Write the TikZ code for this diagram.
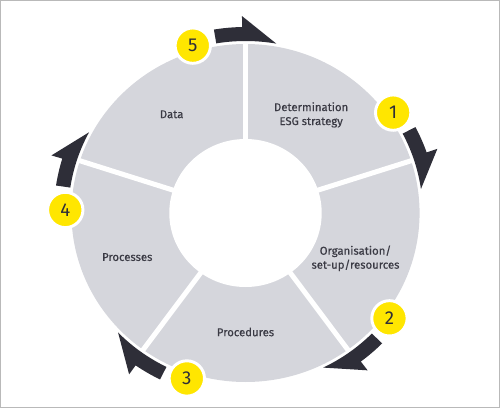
\documentclass[tikz,border=0pt]{standalone}
\usepackage{fontspec}
\setmainfont{Fira Sans}
\newfontfamily\labelfont[FakeBold=0.4]{Fira Sans}

\definecolor{ringgray}{HTML}{D5D6DC}
\definecolor{arrowdark}{HTML}{2E2E38}
\definecolor{badgeyellow}{HTML}{FFE600}
\definecolor{labeltext}{HTML}{3A3A44}

\tikzset{
	sector label/.style={text=labeltext, font=\labelfont\fontsize{8.5}{10.5}\selectfont, align=center},
	badge/.style={circle, fill=badgeyellow, draw=white, line width=2.2pt, minimum size=26.5pt, inner sep=0pt, text=arrowdark, font=\fontsize{14}{14}\selectfont},
	separator/.style={white, line width=3.75pt}
}

\begin{document}
\begin{tikzpicture}[x=0.75pt,y=0.75pt]
	
	\useasboundingbox (0,0) rectangle (500,408);
	
	% Draw frame
	\draw[gray!55, line width=0.75pt] (0.5,0.5) rectangle (499.5,407.5);
	
	\begin{scope}[shift={(245.5,195)}, xscale=1.03]
	
	% Draw ring
	\fill[ringgray] (0,0) circle[radius=169];
	\fill[white] (0,0) circle[radius=74];
	
	% Draw separators
	\draw[separator] (90:70) -- (90:172);
	\draw[separator] (18:70) -- (18:172);
	\draw[separator] (-54:70) -- (-54:172);
	\draw[separator] (-126:70) -- (-126:172);
	\draw[separator] (162:70) -- (162:172);
	
	% Draw arrows
	\fill[arrowdark] (27.5:172) arc[start angle=27.5, end angle=8, radius=172] -- (19:197) -- (19:186) arc[start angle=19, end angle=27.5, radius=186] -- cycle;
	\fill[arrowdark] (-44.5:172) arc[start angle=-44.5, end angle=-64, radius=172] -- (-53:197) -- (-53:186) arc[start angle=-53, end angle=-44.5, radius=186] -- cycle;
	\fill[arrowdark] (-116.5:172) arc[start angle=-116.5, end angle=-136, radius=172] -- (-125:197) -- (-125:186) arc[start angle=-125, end angle=-116.5, radius=186] -- cycle;
	\fill[arrowdark] (171.5:172) arc[start angle=171.5, end angle=152, radius=172] -- (163:197) -- (163:186) arc[start angle=163, end angle=171.5, radius=186] -- cycle;
	\fill[arrowdark] (99.5:172) arc[start angle=99.5, end angle=80, radius=172] -- (91:197) -- (91:186) arc[start angle=91, end angle=99.5, radius=186] -- cycle;
	
	% Draw badges
	\node[badge] (badge1) at (35:175) {1};
	\node[badge] (badge2) at (-37:175) {2};
	\node[badge] (badge3) at (-109:175) {3};
	\node[badge] (badge4) at (179:175) {4};
	\node[badge] (badge5) at (107:175) {5};
	
	% Draw sector labels
	\node[sector label] (strategy) at (57:117) {Determination\\ESG strategy};
	\node[sector label] (organisation) at (-23:116) {Organisation/\\set-up/resources};
	\node[sector label] (procedures) at (-90:119) {Procedures};
	\node[sector label] (processes) at (201:123) {Processes};
	\node[sector label] (data) at (126:122) {Data};
	
	\end{scope}
	
\end{tikzpicture}
\end{document}
